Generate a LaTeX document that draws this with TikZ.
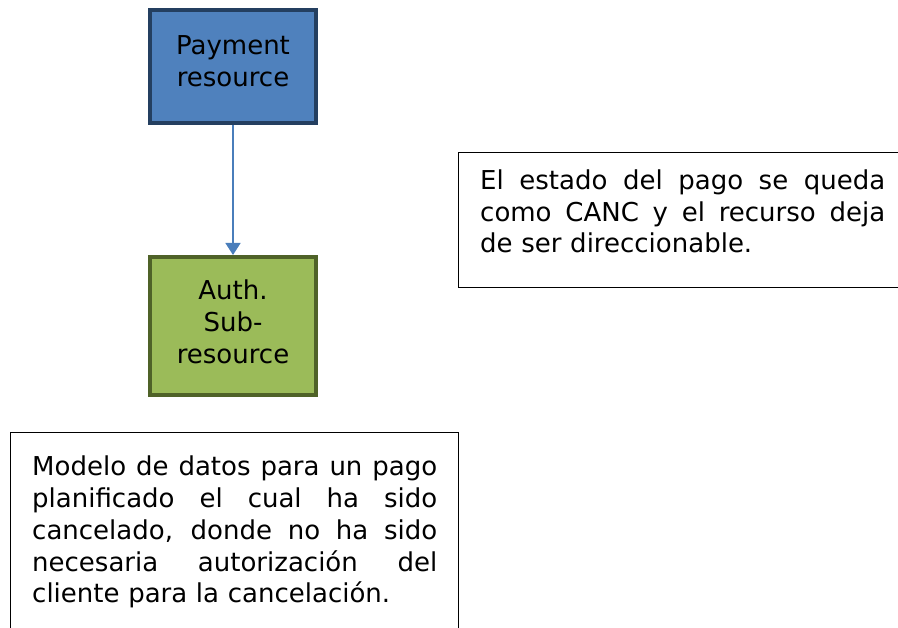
\documentclass[tikz,border=0pt]{standalone}
\usepackage{fontspec}
\setmainfont{DejaVu Sans}
\usetikzlibrary{arrows.meta,positioning}
\definecolor{payfill}{HTML}{4F81BD}
\definecolor{paydraw}{HTML}{243F60}
\definecolor{authfill}{HTML}{9BBB59}
\definecolor{authdraw}{HTML}{4F6228}
\definecolor{arrowcol}{HTML}{4A7EBB}
\newcommand{\jline}[1]{\makebox[405pt][s]{\spaceskip=\fontdimen2\font plus 1fil\relax #1}\\}
\tikzset{
  resbox/.style={rectangle, line width=4pt, minimum width=166pt, inner sep=0pt},
  restext/.style={align=center, inner sep=0pt, font=\fontsize{26}{32}\selectfont},
  frame/.style={rectangle, draw=black, line width=1.4pt, inner sep=0pt, anchor=north west},
  notetext/.style={anchor=base west, text width=405pt, inner sep=0pt, align=left,
    font=\fontsize{26}{31.7}\selectfont},
  link/.style={draw=arrowcol, line width=1.5pt, -{Triangle[width=15pt,length=12pt]}}
}
\begin{document}
\begin{tikzpicture}[x=1pt,y=-1pt]
\useasboundingbox (0,0) rectangle (898,628);
\clip (0,0) rectangle (898,628);
\node[resbox, fill=payfill, draw=paydraw, minimum height=113pt] (pay) at (233,66.5) {};
\node[restext] (paytext) at ([yshift=5pt]pay.center) {Payment\\resource};
\node[resbox, fill=authfill, draw=authdraw, minimum height=138pt] (auth) at (233,326) {};
\node[restext] (authtext) at ([yshift=4pt]auth.center) {Auth.\\Sub-\\resource};
\draw[link] (pay.south) -- (auth.north);
\node[frame, minimum width=460pt, minimum height=135pt] (stat) at (458,152) {};
\node[notetext] (stattext) at (480,189.5) {\jline{El estado del pago se queda}\jline{como CANC y el recurso deja}de ser direccionable.};
\node[frame, minimum width=448pt, minimum height=220pt] (model) at (10,432) {};
\node[notetext] (modeltext) at (32,476) {\jline{Modelo de datos para un pago}\jline{planificado el cual ha sido}\jline{cancelado, donde no ha sido}\jline{necesaria autorización del}cliente para la cancelación.};
\end{tikzpicture}
\end{document}
